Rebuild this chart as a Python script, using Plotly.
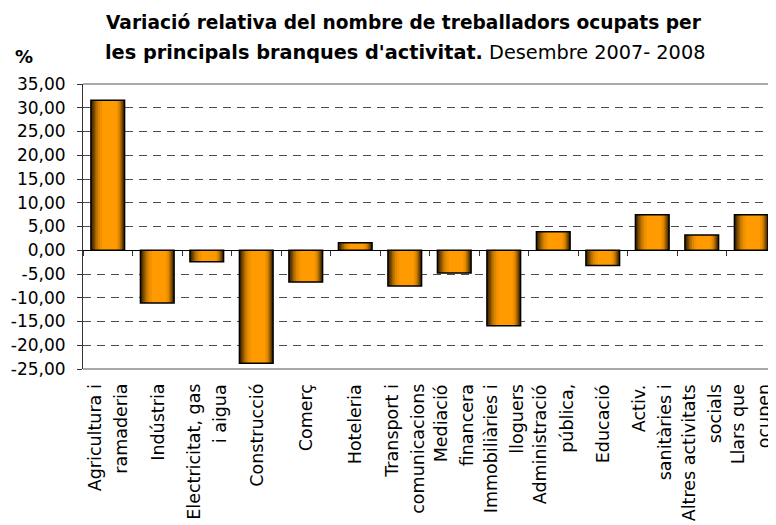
"""Variació relativa del nombre de treballadors ocupats per branques d'activitat."""

import plotly.graph_objects as go

# ---- dades -------------------------------------------------------------
branques = [
    "Agricultura i ramaderia",
    "Indústria",
    "Electricitat, gas i aigua",
    "Construcció",
    "Comerç",
    "Hoteleria",
    "Transport i comunicacions",
    "Mediació financera",
    "Immobiliàries i lloguers",
    "Administració pública,",
    "Educació",
    "Activ. sanitàries i",
    "Altres activitats socials",
    "Llars que ocupen",
]
# línies de cada etiqueta tal com surten (tallades) al gràfic
etiquetes = [
    ["Agricultura i", "ramaderia"],
    ["Indústria"],
    ["Electricitat, gas", "i aigua"],
    ["Construcció"],
    ["Comerç"],
    ["Hoteleria"],
    ["Transport i", "comunicacions"],
    ["Mediació", "financera"],
    ["Immobiliàries i", "lloguers"],
    ["Administració", "pública,"],
    ["Educació"],
    ["Activ.", "sanitàries i"],
    ["Altres activitats", "socials"],
    ["Llars que", "ocupen"],
]
variacio = [31.6, -11.1, -2.4, -23.8, -6.7, 1.6, -7.5, -4.8, -15.9, 3.9, -3.2, 7.5, 3.2, 7.5]

y_ticks = [35, 30, 25, 20, 15, 10, 5, 0, -5, -10, -15, -20, -25]
y_ticktext = ["35,00", "30,00", "25,00", "20,00", "15,00", "10,00", "5,00", "0,00",
              "-5,00", "-10,00", "-15,00", "-20,00", "-25,00"]

# ---- geometria ----------------------------------------------------------
# la pàgina té 8 px de marge al body: la figura es fa 8 px més petita
OFF = 8
W, H = 776 - OFF, 525 - OFF
M_L, M_R, M_T, M_B = 83 - OFF, 0, 84 - OFF, 156
FONT = "DejaVu Sans"


def px_x(x):
    # x en píxels de la finestra -> coordenada paper
    return (x - OFF - M_L) / (W - M_L - M_R)


def px_y(y):
    return (H - M_B - (y - OFF)) / (H - M_T - M_B)


# degradat horitzontal de les barres: (retall esquerre, retall dret, color)
BAR_W = 0.68
gradient = [
    (0.00, 0.00, "#3f2500"),
    (0.04, 0.03, "#5c3700"),
    (0.08, 0.06, "#7d4c00"),
    (0.12, 0.09, "#a06200"),
    (0.16, 0.12, "#c27600"),
    (0.21, 0.15, "#de8600"),
    (0.27, 0.19, "#f29200"),
    (0.34, 0.24, "#ff9a00"),
]

fig = go.Figure()
for left, right, col in gradient:
    fig.add_trace(
        go.Bar(
            x=branques,
            y=variacio,
            width=BAR_W * (1 - left - right),
            offset=-BAR_W / 2 + BAR_W * left,
            marker={"color": col, "line": {"width": 0}},
            hoverinfo="skip",
        )
    )
fig.add_trace(
    go.Bar(
        x=branques,
        y=variacio,
        width=BAR_W,
        offset=-BAR_W / 2,
        marker={"color": "rgba(0,0,0,0)", "line": {"color": "#000000", "width": 1.5}},
        hovertemplate="%{x}: %{y:.2f}<extra></extra>",
    )
)

fig.update_layout(
    width=W,
    height=H,
    margin={"l": M_L, "r": M_R, "t": M_T, "b": M_B},
    paper_bgcolor="white",
    plot_bgcolor="white",
    showlegend=False,
    barmode="overlay",
    font={"family": FONT, "color": "#000000"},
)

fig.update_yaxes(
    range=[-25, 35],
    tickvals=y_ticks,
    ticktext=y_ticktext,
    tickfont={"size": 17, "color": "#000000"},
    ticks="outside",
    ticklen=5,
    tickcolor="#333333",
    ticklabelstandoff=8,
    showline=True,
    linecolor="#333333",
    linewidth=1,
    showgrid=True,
    gridcolor="#4d4d4d",
    gridwidth=1,
    griddash="8px,6px",
    zeroline=False,
    automargin=False,
    fixedrange=True,
)
fig.update_xaxes(
    type="category",
    categoryorder="array",
    categoryarray=branques,
    range=[-0.5, len(branques) - 0.5],
    anchor="free",
    position=25 / 60,
    showline=True,
    linecolor="#000000",
    linewidth=1.3,
    ticks="outside",
    tickson="boundaries",
    ticklen=5,
    tickcolor="#333333",
    showticklabels=False,
    showgrid=False,
    zeroline=False,
    automargin=False,
    fixedrange=True,
)

# vores superior i inferior de l'àrea de traçat
fig.add_shape(type="line", xref="paper", yref="paper", x0=0, x1=1, y0=1, y1=1,
              line={"color": "#8c8c8c", "width": 1.5})
fig.add_shape(type="line", xref="paper", yref="paper", x0=0, x1=1, y0=0, y1=0,
              line={"color": "#a8a8a8", "width": 2})

# etiquetes de categoria, una anotació per línia
LINE_GAP = 26
for cat, lines in zip(branques, etiquetes):
    n = len(lines)
    for k, txt in enumerate(lines):
        fig.add_annotation(
            x=cat,
            xref="x",
            y=0,
            yref="paper",
            text=txt,
            textangle=-90,
            showarrow=False,
            xanchor="center",
            yanchor="top",
            xshift=(k - (n - 1) / 2) * LINE_GAP,
            yshift=-13,
            font={"family": FONT, "size": 17.5, "color": "#000000"},
        )

# títol i unitat
fig.add_annotation(
    x=px_x(404), y=px_y(22.5), xref="paper", yref="paper",
    text="<b>Variació relativa del nombre de treballadors ocupats per</b>",
    showarrow=False, xanchor="center", yanchor="middle",
    font={"family": FONT, "size": 18.6, "color": "#000000"},
)
fig.add_annotation(
    x=px_x(405), y=px_y(52.5), xref="paper", yref="paper",
    text="<b>les principals branques d'activitat.</b> Desembre 2007- 2008",
    showarrow=False, xanchor="center", yanchor="middle",
    font={"family": FONT, "size": 19.3, "color": "#000000"},
)
fig.add_annotation(
    x=px_x(24), y=px_y(56.5), xref="paper", yref="paper",
    text="<b>%</b>",
    showarrow=False, xanchor="center", yanchor="middle",
    font={"family": FONT, "size": 18, "color": "#000000"},
)

fig.write_html("out.html")
